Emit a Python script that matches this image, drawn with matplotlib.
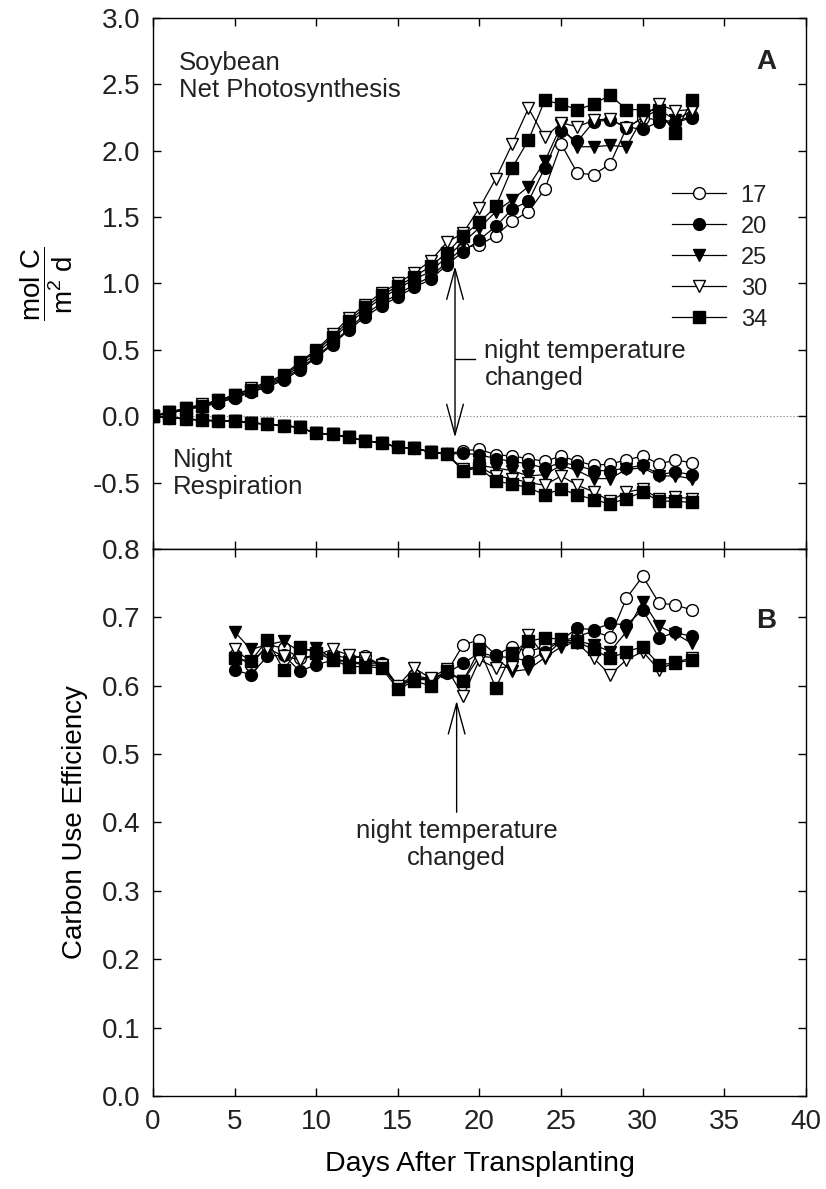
import numpy as np
import matplotlib.pyplot as plt

plt.rcParams['font.family'] = ['Liberation Sans', 'DejaVu Sans']
plt.rcParams['mathtext.fontset'] = 'custom'
plt.rcParams['mathtext.rm'] = 'Liberation Sans'
plt.rcParams['mathtext.it'] = 'Liberation Sans:italic'
plt.rcParams['text.color'] = '#222222'
plt.rcParams['xtick.labelcolor'] = '#222222'
plt.rcParams['ytick.labelcolor'] = '#222222'

# ---- data ----
days = np.arange(0, 34)
cue_days = np.arange(5, 34)
temps = ["17", "20", "25", "30", "34"]

# net photosynthesis (mol C m-2 d-1)
photo_17 = [0.00, 0.03, 0.05, 0.08, 0.10, 0.14, 0.18, 0.23, 0.28, 0.36, 0.45, 0.55, 0.66, 0.77, 0.85, 0.92, 0.99, 1.05, 1.16,
            1.27, 1.29, 1.36, 1.47, 1.54, 1.71, 2.05, 1.83, 1.82, 1.90, 2.17, 2.25, 2.23, 2.22, 2.26]
photo_20 = [0.00, 0.02, 0.05, 0.07, 0.10, 0.14, 0.18, 0.22, 0.27, 0.35, 0.44, 0.54, 0.65, 0.75, 0.83, 0.90, 0.97, 1.03, 1.14,
            1.24, 1.33, 1.43, 1.56, 1.62, 1.87, 2.15, 2.07, 2.22, 2.23, 2.18, 2.16, 2.22, 2.21, 2.25]
photo_25 = [0.00, 0.03, 0.05, 0.08, 0.11, 0.15, 0.19, 0.24, 0.29, 0.38, 0.47, 0.58, 0.70, 0.80, 0.89, 0.96, 1.03, 1.09, 1.20,
            1.31, 1.42, 1.54, 1.63, 1.73, 1.92, 2.19, 2.03, 2.03, 2.04, 2.03, 2.25, 2.31, 2.23, 2.30]
photo_30 = [0.00, 0.03, 0.06, 0.09, 0.12, 0.16, 0.21, 0.26, 0.31, 0.41, 0.50, 0.62, 0.74, 0.84, 0.93, 1.00, 1.08, 1.17, 1.31,
            1.38, 1.57, 1.79, 2.05, 2.32, 2.10, 2.21, 2.18, 2.23, 2.24, 2.17, 2.25, 2.35, 2.30, 2.31]
photo_34 = [0.00, 0.03, 0.06, 0.08, 0.12, 0.16, 0.20, 0.25, 0.30, 0.40, 0.49, 0.60, 0.72, 0.82, 0.91, 0.98, 1.05, 1.13, 1.23,
            1.36, 1.46, 1.58, 1.87, 2.08, 2.38, 2.35, 2.31, 2.35, 2.42, 2.31, 2.31, 2.30, 2.13, 2.38]

# night respiration (negative)
resp_17 = [0.00, -0.01, -0.02, -0.03, -0.035, -0.035, -0.05, -0.06, -0.07, -0.085, -0.13, -0.135, -0.16, -0.185, -0.20, -0.235,
           -0.24, -0.27, -0.285, -0.26, -0.25, -0.29, -0.30, -0.32, -0.34, -0.30, -0.34, -0.37, -0.36, -0.33, -0.30, -0.36, -0.33, -0.35]
resp_20 = [0.00, -0.01, -0.02, -0.03, -0.035, -0.035, -0.05, -0.06, -0.07, -0.085, -0.13, -0.135, -0.16, -0.185, -0.20, -0.235,
           -0.24, -0.27, -0.285, -0.28, -0.29, -0.32, -0.34, -0.36, -0.39, -0.35, -0.37, -0.41, -0.41, -0.39, -0.37, -0.44, -0.42, -0.44]
resp_25 = [0.00, -0.01, -0.02, -0.03, -0.035, -0.035, -0.05, -0.06, -0.07, -0.085, -0.13, -0.135, -0.16, -0.185, -0.20, -0.235,
           -0.24, -0.27, -0.285, -0.41, -0.37, -0.39, -0.41, -0.45, -0.44, -0.37, -0.41, -0.47, -0.47, -0.40, -0.39, -0.45, -0.45, -0.47]
resp_30 = [0.00, -0.01, -0.02, -0.03, -0.035, -0.035, -0.05, -0.06, -0.07, -0.085, -0.13, -0.135, -0.16, -0.185, -0.20, -0.235,
           -0.24, -0.27, -0.285, -0.40, -0.38, -0.45, -0.47, -0.50, -0.52, -0.45, -0.52, -0.57, -0.64, -0.57, -0.55, -0.62, -0.61, -0.62]
resp_34 = [0.00, -0.01, -0.02, -0.03, -0.035, -0.035, -0.05, -0.06, -0.07, -0.085, -0.13, -0.135, -0.16, -0.185, -0.20, -0.235,
           -0.24, -0.27, -0.285, -0.41, -0.39, -0.49, -0.51, -0.54, -0.59, -0.55, -0.59, -0.63, -0.66, -0.62, -0.57, -0.64, -0.64, -0.65]

# carbon use efficiency, days 5-33
cue_17 = [0.645, 0.630, 0.660, 0.655, 0.640, 0.645, 0.645, 0.640, 0.643, 0.630, 0.600, 0.615, 0.610, 0.620,
          0.660, 0.667, 0.645, 0.657, 0.650, 0.657, 0.665, 0.672, 0.680, 0.671, 0.728, 0.760, 0.721, 0.718, 0.711]
cue_20 = [0.623, 0.616, 0.643, 0.645, 0.621, 0.631, 0.637, 0.635, 0.633, 0.633, 0.600, 0.611, 0.610, 0.618,
          0.633, 0.648, 0.643, 0.641, 0.636, 0.650, 0.667, 0.684, 0.682, 0.691, 0.689, 0.711, 0.670, 0.678, 0.672]
cue_25 = [0.679, 0.653, 0.660, 0.665, 0.650, 0.655, 0.640, 0.635, 0.630, 0.630, 0.598, 0.610, 0.608, 0.620,
          0.607, 0.643, 0.641, 0.621, 0.624, 0.641, 0.657, 0.665, 0.660, 0.650, 0.679, 0.723, 0.687, 0.676, 0.662]
cue_30 = [0.653, 0.635, 0.655, 0.643, 0.638, 0.645, 0.653, 0.645, 0.640, 0.630, 0.600, 0.626, 0.611, 0.625,
          0.585, 0.638, 0.626, 0.628, 0.674, 0.643, 0.665, 0.662, 0.640, 0.616, 0.638, 0.650, 0.623, 0.635, 0.640]
cue_34 = [0.640, 0.636, 0.667, 0.623, 0.657, 0.648, 0.638, 0.628, 0.628, 0.626, 0.595, 0.607, 0.600, 0.622,
          0.607, 0.653, 0.597, 0.648, 0.665, 0.670, 0.668, 0.664, 0.653, 0.640, 0.650, 0.657, 0.631, 0.633, 0.638]

photo = [photo_17, photo_20, photo_25, photo_30, photo_34]
resp = [resp_17, resp_20, resp_25, resp_30, resp_34]
cue = [cue_17, cue_20, cue_25, cue_30, cue_34]

markers = ["o", "o", "v", "v", "s"]
faces = ["white", "black", "black", "white", "black"]
ms = [8.5, 8.5, 8.5, 8.5, 8]

FS = 20      # tick labels / axis labels
FT = 18.5    # in-plot text

fig = plt.figure(figsize=(8.26, 11.89), dpi=100)
axA = fig.add_axes([0.1852, 0.5383, 0.7906, 0.4466])
axB = fig.add_axes([0.1852, 0.0782, 0.7906, 0.4601])

style = dict(color="black", lw=0.9, mec="black", mew=1.0)
handles = []
for i, t in enumerate(temps):
    h, = axA.plot(days, photo[i], marker=markers[i], mfc=faces[i], ms=ms[i], label=t, **style)
    axA.plot(days, resp[i], marker=markers[i], mfc=faces[i], ms=ms[i], **style)
    axB.plot(cue_days, cue[i], marker=markers[i], mfc=faces[i], ms=ms[i], **style)
    handles.append(h)

axA.axhline(0, color="#777777", ls=(0, (1, 2)), lw=0.8, zorder=0)

for ax in (axA, axB):
    ax.set_xlim(0, 40)
    ax.set_xticks(np.arange(0, 41, 5))
    ax.tick_params(direction="in", top=True, right=True, length=6, width=1,
                   labelsize=FS, pad=9)
    for s in ax.spines.values():
        s.set_linewidth(1.0)

axA.set_ylim(-1.0, 3.0)
yA = np.arange(-1.0, 3.01, 0.5)
axA.set_yticks(yA)
axA.set_yticklabels(["" if v < -0.9 else f"{v:.1f}" for v in yA])
axA.tick_params(labelbottom=False)

axB.set_ylim(0, 0.8)
yB = np.arange(0, 0.81, 0.1)
axB.set_yticks(yB)
axB.set_yticklabels([f"{v:.1f}" for v in yB])
axB.set_xlabel("Days After Transplanting", fontsize=FS + 0.5, labelpad=12)
axB.set_ylabel("Carbon Use Efficiency", fontsize=FS, labelpad=10)
axA.set_ylabel(r"$\dfrac{\mathrm{mol\ C}}{\mathrm{m^2\ d}}$", fontsize=FS, labelpad=13)

# text annotations
axA.text(1.6, 2.75, "Soybean\nNet Photosynthesis", fontsize=FT, va="top", ha="left", linespacing=1.14)
axA.text(1.2, -0.24, "Night\nRespiration", fontsize=FT, va="top", ha="left", linespacing=1.14)
axA.text(0.939, 0.917, "A", transform=axA.transAxes, fontsize=20, fontweight="bold", ha="center", va="center")
axB.text(0.939, 0.868, "B", transform=axB.transAxes, fontsize=20, fontweight="bold", ha="center", va="center")

change_day = 18.5
axA.annotate("", xy=(change_day, 1.13), xytext=(change_day, -0.16),
             arrowprops=dict(arrowstyle="<->,head_length=1.1,head_width=0.3", lw=1, color="black",
                             shrinkA=0, shrinkB=0, mutation_scale=20))
axA.plot([change_day, change_day + 1.2], [0.43, 0.43], color="black", lw=1)
axA.text(change_day + 1.8, 0.58, "night temperature\nchanged", fontsize=FT, va="top", ha="left", linespacing=1.14)

axB.annotate("", xy=(change_day + 0.1, 0.578), xytext=(change_day + 0.1, 0.415),
             arrowprops=dict(arrowstyle="->,head_length=1.1,head_width=0.3", lw=1, color="black",
                             shrinkA=0, shrinkB=0, mutation_scale=20))
axB.text(change_day + 0.1, 0.405, "night temperature\nchanged", fontsize=FT, va="top", ha="center", linespacing=1.14)

axA.legend(handles=handles, loc="upper left", bbox_to_anchor=(0.795, 0.686), frameon=False,
           fontsize=17, handlelength=2.3, handletextpad=0.6, labelspacing=0.38,
           borderpad=0, borderaxespad=0)

fig.savefig("out.png", dpi=100)
